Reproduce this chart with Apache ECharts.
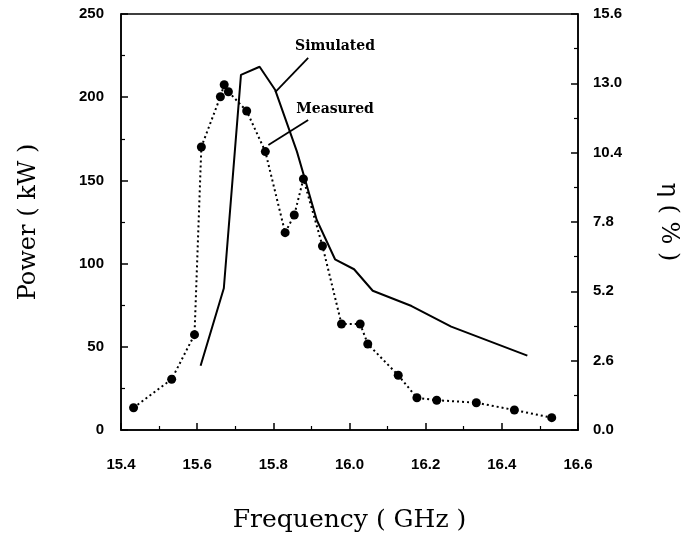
<!DOCTYPE html>
<html>
<head>
<meta charset="utf-8">
<script src="https://cdn.jsdelivr.net/npm/echarts@6/dist/echarts.min.js"></script>
<style>
html,body{margin:0;padding:0;background:#fff;}
#chart{width:693px;height:540px;}
</style>
</head>
<body>
<div id="chart"></div>
<script>
// Measured (dotted, filled circles) — frequency (GHz) and power (kW)
var measuredFreq = [15.433, 15.533, 15.593, 15.611, 15.661, 15.671, 15.682, 15.730, 15.779, 15.831, 15.855, 15.879, 15.929, 15.979, 16.028, 16.048, 16.128, 16.177, 16.229, 16.333, 16.433, 16.531];
var measuredPower = [13.4, 30.5, 57.3, 170.1, 200.3, 207.5, 203.3, 191.7, 167.3, 118.6, 129.2, 150.9, 110.6, 63.7, 63.7, 51.7, 32.9, 19.4, 17.9, 16.4, 12.0, 7.4];

// Simulated (solid line)
var simulatedFreq = [15.609, 15.670, 15.715, 15.764, 15.805, 15.862, 15.914, 15.962, 16.012, 16.061, 16.163, 16.267, 16.467];
var simulatedPower = [38.6, 85.2, 213.4, 218.3, 204.3, 167.3, 126.2, 102.6, 96.6, 83.7, 74.5, 62.1, 44.7];

// Axis ranges / tick labels
var xTicks = [15.4, 15.6, 15.8, 16.0, 16.2, 16.4, 16.6];
var leftTicks = [0, 50, 100, 150, 200, 250];
var rightTicks = [0.0, 2.6, 5.2, 7.8, 10.4, 13.0, 15.6];

// Annotations (data coordinates): label text, label anchor, arrow start, arrow end
var annoText = ['Simulated', 'Measured'];
var annoLabelPos = [[15.962, 230.5], [15.962, 192.6]];
var annoArrowFrom = [[15.8915, 223.6], [15.8915, 186.3]];
var annoArrowTo = [[15.805, 203.1], [15.787, 171.3]];

function zip(a, b) { return a.map(function (v, i) { return [v, b[i]]; }); }

var chart = echarts.init(document.getElementById('chart'), null, {renderer: 'canvas'});

var tickFont = {color: '#000', fontFamily: 'Liberation Sans', fontWeight: 'bold', fontSize: 15};
var serif = 'DejaVu Serif';

var option = {
  animation: false,
  backgroundColor: '#fff',
  grid: {left: 121, right: 115, top: 14, bottom: 110, show: true, borderColor: '#000', borderWidth: 1.5, backgroundColor: 'transparent'},
  xAxis: {
    type: 'value',
    min: xTicks[0], max: xTicks[xTicks.length - 1], interval: 0.2,
    axisLine: {show: true, lineStyle: {color: '#000', width: 1.5}},
    axisTick: {show: true, inside: true, length: 7, lineStyle: {color: '#000', width: 1.5}},
    minorTick: {show: true, splitNumber: 2, length: 4, lineStyle: {color: '#000', width: 1.2}},
    splitLine: {show: false},
    axisLabel: Object.assign({margin: 27, formatter: function (v) { return v.toFixed(1); }}, tickFont),
    name: 'Frequency ( GHz )',
    nameLocation: 'middle',
    nameGap: 78,
    nameTextStyle: {fontFamily: serif, fontSize: 25, color: '#000'}
  },
  yAxis: [{
    type: 'value',
    position: 'left',
    min: leftTicks[0], max: leftTicks[leftTicks.length - 1], interval: 50,
    axisLine: {show: true, lineStyle: {color: '#000', width: 1.5}},
    axisTick: {show: true, inside: true, length: 7, lineStyle: {color: '#000', width: 1.5}},
    minorTick: {show: true, splitNumber: 2, length: 4, lineStyle: {color: '#000', width: 1.2}},
    splitLine: {show: false},
    axisLabel: Object.assign({margin: 17}, tickFont),
    name: 'Power ( kW )',
    nameLocation: 'middle',
    nameGap: 80,
    nameRotate: 90,
    nameTextStyle: {fontFamily: serif, fontSize: 24, color: '#000'}
  }, {
    type: 'value',
    position: 'right',
    min: rightTicks[0], max: rightTicks[rightTicks.length - 1], interval: 2.6,
    axisLine: {show: true, lineStyle: {color: '#000', width: 1.5}},
    axisTick: {show: true, inside: true, length: 7, lineStyle: {color: '#000', width: 1.5}},
    minorTick: {show: true, splitNumber: 2, length: 4, lineStyle: {color: '#000', width: 1.2}},
    splitLine: {show: false},
    axisLabel: Object.assign({margin: 15, formatter: function (v) { return v.toFixed(1); }}, tickFont),
    name: 'η ( % )',
    nameLocation: 'middle',
    nameGap: 78,
    nameRotate: -90,
    nameTextStyle: {fontFamily: serif, fontSize: 24, color: '#000'}
  }],
  series: [{
    name: 'Simulated',
    type: 'line',
    yAxisIndex: 0,
    data: zip(simulatedFreq, simulatedPower),
    showSymbol: false,
    symbol: 'none',
    lineStyle: {color: '#000', width: 2},
    z: 3,
    markLine: {
      silent: true,
      symbol: ['none', 'arrow'],
      symbolSize: [0, 9],
      lineStyle: {color: '#000', width: 1.8, type: 'solid'},
      label: {show: false},
      data: annoArrowFrom.map(function (p, i) { return [{coord: p}, {coord: annoArrowTo[i]}]; })
    },
    markPoint: {
      silent: true,
      symbol: 'circle',
      symbolSize: 1,
      itemStyle: {color: 'rgba(0,0,0,0)'},
      label: {show: true, position: 'inside', color: '#000', fontFamily: serif, fontWeight: 'bold', fontSize: 14},
      data: annoLabelPos.map(function (p, i) { return {coord: p, value: annoText[i], label: {formatter: annoText[i]}}; })
    }
  }, {
    name: 'Measured',
    type: 'line',
    yAxisIndex: 0,
    data: zip(measuredFreq, measuredPower),
    symbol: 'circle',
    symbolSize: 9,
    showSymbol: true,
    itemStyle: {color: '#000'},
    lineStyle: {color: '#000', width: 2, type: [2, 3]},
    z: 4
  }]
};
chart.setOption(option);
</script>
</body>
</html>
